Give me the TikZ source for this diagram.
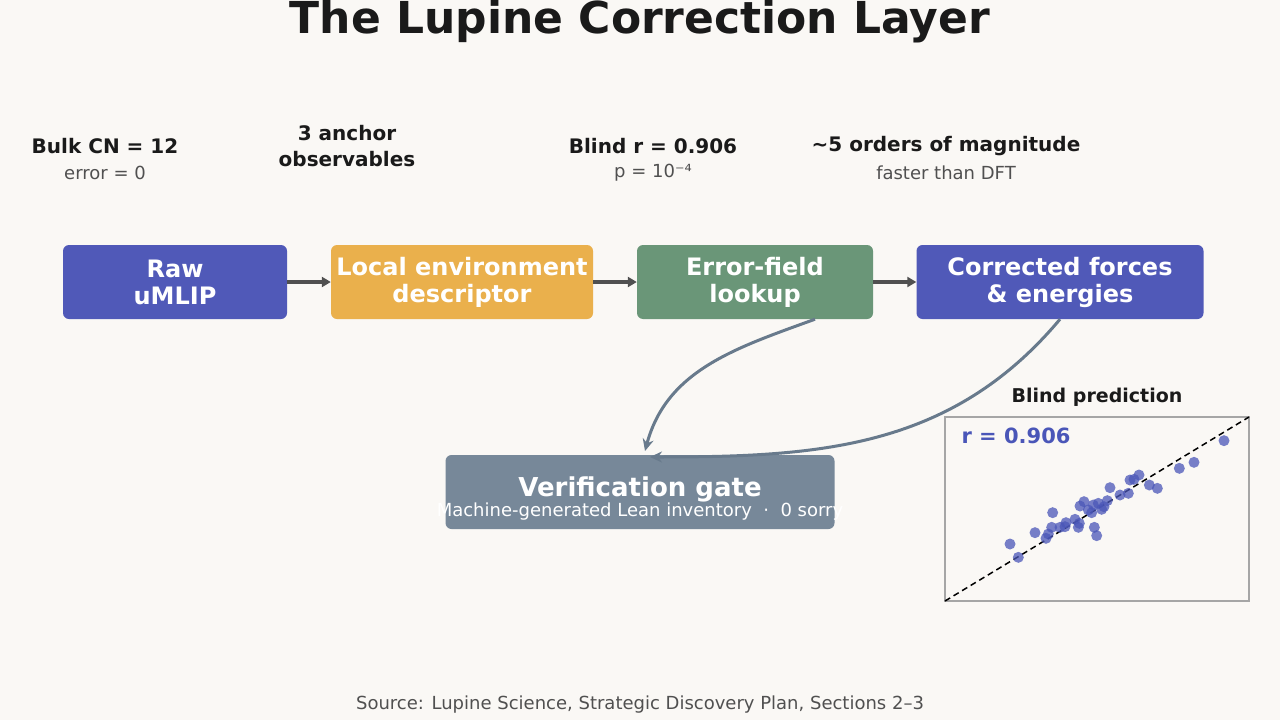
\documentclass[tikz,border=0pt]{standalone}
\usepackage{fontspec}
\setmainfont{DejaVu Sans}
\usetikzlibrary{arrows.meta, positioning}
\definecolor{bg}{HTML}{FAF8F5}
\definecolor{umlip}{HTML}{5059B8}
\definecolor{desc}{HTML}{EAB04C}
\definecolor{field}{HTML}{6A9678}
\definecolor{gate}{HTML}{778899}
\definecolor{slate}{HTML}{687A8C}
\definecolor{ink}{HTML}{1A1A1A}
\definecolor{soft}{HTML}{505050}
\definecolor{dots}{HTML}{4A56B8}
\tikzset{
    stage/.style={rectangle, rounded corners=6pt, minimum height=74pt, text centered, align=center, text=white, font=\fontsize{24}{27}\selectfont\bfseries, inner sep=0pt},
    flow/.style={-{Triangle[length=9pt,width=10pt]}, line width=4pt, color=soft},
    feedback/.style={-{Stealth[length=12pt,width=11pt]}, line width=3pt, color=slate},
    stat/.style={align=center, text=ink, font=\fontsize{20}{26}\selectfont\bfseries},
    sub/.style={align=center, text=soft, font=\fontsize{18}{22}\selectfont}
}
\begin{document}
\begin{tikzpicture}[x=1pt, y=-1pt]
    \fill[bg] (0,0) rectangle (1280,720);
    \useasboundingbox (0,0) rectangle (1280,720);

    % Title
    \node[font=\fontsize{44}{50}\selectfont\bfseries, text=ink] (title) at (640,22) {The Lupine Correction Layer};

    % Stats
    \node[stat] (cn) at (105,146) {Bulk CN = 12};
    \node[sub] (cnerr) at (105,173) {error = 0};
    \node[stat] (anchor) at (347,146) {3 anchor\\observables};
    \node[stat] (blind) at (653,146) {Blind r = 0.906};
    \node[sub] (pval) at (653,173) {p = 10⁻⁴};
    \node[stat] (orders) at (946,146) {\textasciitilde5 orders of magnitude};
    \node[sub] (dft) at (946,173) {faster than DFT};

    % Pipeline
    \node[stage, fill=umlip, minimum width=224pt] (raw) at (175,282) {Raw\\uMLIP};
    \node[stage, fill=desc, minimum width=262pt] (local) at (462,282) {Local environment\\descriptor};
    \node[stage, fill=field, minimum width=236pt] (lookup) at (755,282) {Error-field\\lookup};
    \node[stage, fill=umlip, minimum width=287pt] (corrected) at (1060,282) {Corrected forces\\\& energies};
    \node[stage, fill=gate, minimum width=389pt] (gatebox) at (640,492) {};
    \node[text=white, font=\fontsize{26}{30}\selectfont\bfseries] (gatetitle) at (640,489) {Verification gate};
    \node[text=white, font=\fontsize{18}{22}\selectfont] (gatesub) at (640,512) {Machine-generated Lean inventory \ · \ 0 sorry};

    \draw[flow] (raw) -- (local);
    \draw[flow] (local) -- (lookup);
    \draw[flow] (lookup) -- (corrected);

    % Feedback into the gate
    \coordinate (gateA) at (645,451);
    \coordinate (gateB) at (650,457);
    \draw[feedback] (lookup.south -| 815,0) to[out=200, in=75] (gateA);
    \draw[feedback] (corrected.south) to[out=230, in=0] (gateB);

    % Blind prediction inset
    \node[font=\fontsize{19}{22}\selectfont\bfseries, text=ink] (inset) at (1097,397) {Blind prediction};
    \draw[draw=gray!70, line width=1.2pt] (945,417) rectangle (1249,601);
    \draw[dashed, line width=1.5pt, dash pattern=on 6pt off 4pt] (945,601) -- (1249,417);
    \foreach \a/\b in {210/402,235/442,285/368,318/385,325/372,335/352,338/308,360/352,375/350,378/338,405/328,415/352,418/340,420/288,432/275,445/300,455/308,460/285,463/352,470/377,475/280,485/298,492/290,502/272,510/233,540/255,565/250,570/210,582/208,597/195,628/225,652/235,718/175,762/157,852/92}
        \fill[dots, fill opacity=0.75] ({940+\a/3},{410+\b/3}) circle (5.5pt);
    \node[anchor=west, text=dots, font=\fontsize{21}{24}\selectfont\bfseries] (rval) at (958,436) {r = 0.906};

    % Source
    \node[sub] (source) at (640,705) {Source: Lupine Science, Strategic Discovery Plan, Sections 2–3};
\end{tikzpicture}
\end{document}
